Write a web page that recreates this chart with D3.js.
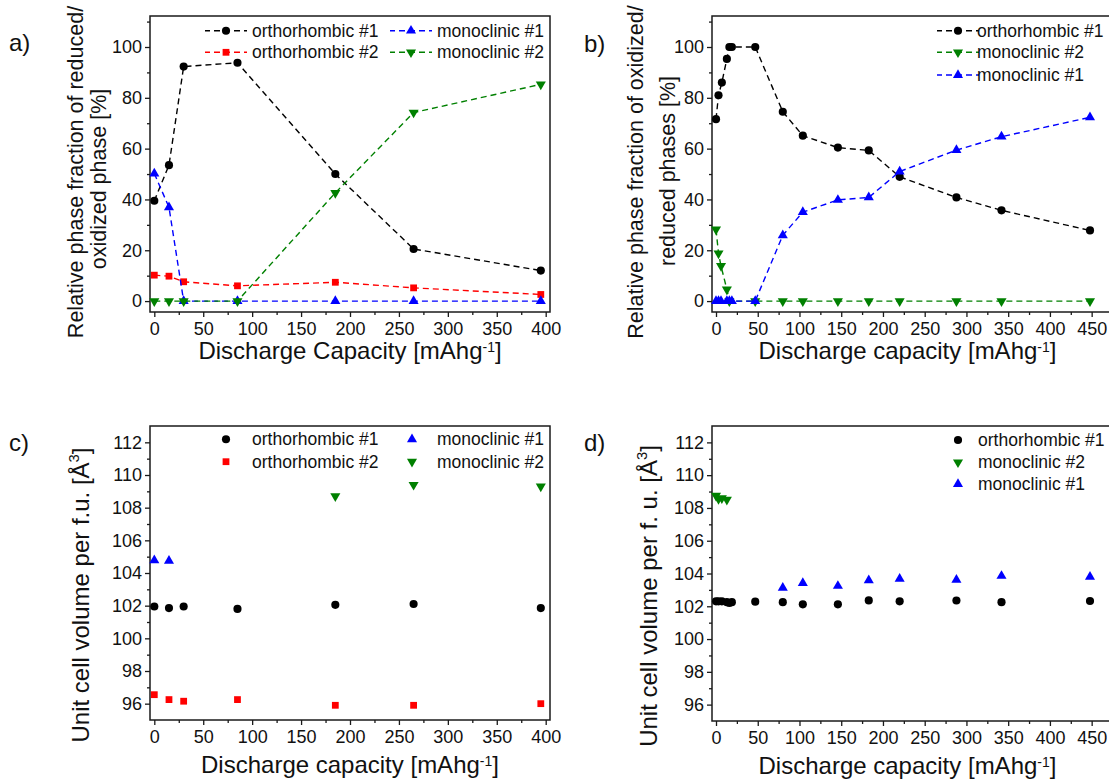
<!DOCTYPE html>
<html>
<head>
<meta charset="utf-8">
<script src="https://cdn.jsdelivr.net/npm/d3@7"></script>
<style>
  body { margin: 0; background: #fff; }
  svg { font-family: "Liberation Sans", Arial, sans-serif; }
</style>
</head>
<body>
<svg width="1109" height="781"></svg>
<script>

// ---- data, panels a) and c) (same capacities) ----
const capAC = [0, 15, 30, 85, 185, 265, 395];

const fracA_ortho1 = [39.5, 53.5, 92.3, 93.8, 50, 20.5, 12];
const fracA_ortho2 = [10.2, 9.8, 7.6, 6.0, 7.4, 5.2, 2.6];
const fracA_mono1  = [50.2, 36.9, 0, 0, 0, 0, 0];
const fracA_mono2  = [0, 0, 0, 0, 42.6, 74.2, 85.3];

const volC_ortho1 = [101.95, 101.85, 101.95, 101.8, 102.05, 102.1, 101.85];
const volC_ortho2 = [96.55, 96.25, 96.15, 96.25, 95.9, 95.9, 96.0];
const capC_mono1  = [0, 15];
const volC_mono1  = [104.78, 104.74];
const capC_mono2  = [185, 265, 395];
const volC_mono2  = [108.7, 109.4, 109.3];

// ---- data, panel b) ----
const capB_ortho1  = [0, 3, 7, 13, 16, 19, 47, 80, 104, 146, 183, 220, 288, 342, 448];
const fracB_ortho1 = [71.6, 81, 86, 95.3, 100, 100, 100, 74.5, 65.1, 60.4, 59.3, 48.9, 40.8, 35.7, 27.8];
const capB_mono2   = [0, 3, 6, 13, 16, 47, 80, 104, 146, 183, 220, 288, 342, 448];
const fracB_mono2  = [28.2, 18.8, 13.8, 4.6, 0, 0, 0, 0, 0, 0, 0, 0, 0, 0];
const capB_mono1   = [0, 3, 6, 13, 16, 19, 47, 80, 104, 146, 183, 220, 288, 342, 448];
const fracB_mono1  = [0, 0, 0, 0, 0, 0, 0, 25.9, 35, 39.8, 40.8, 51, 59.4, 64.7, 72.3];

// ---- data, panel d) ----
const capD_ortho1 = [0, 3, 7, 13, 16, 19, 47, 80, 104, 146, 183, 220, 288, 342, 448];
const volD_ortho1 = [102.3, 102.3, 102.3, 102.25, 102.2, 102.25, 102.28, 102.25, 102.12, 102.12, 102.36, 102.3, 102.35, 102.25, 102.32];
const capD_mono2  = [0, 3, 7, 13];
const volD_mono2  = [108.75, 108.55, 108.6, 108.5];
const capD_mono1  = [80, 104, 146, 183, 220, 288, 342, 448];
const volD_mono1  = [103.13, 103.42, 103.24, 103.58, 103.68, 103.62, 103.85, 103.8];

// ---- ticks ----
const fracTicks  = [0, 20, 40, 60, 80, 100];
const fracMinor  = [10, 30, 50, 70, 90, 110];
const volTicks   = [96, 98, 100, 102, 104, 106, 108, 110, 112];
const volMinor   = [97, 99, 101, 103, 105, 107, 109, 111];
const capTicks400 = [0, 50, 100, 150, 200, 250, 300, 350, 400];
const capMinor400 = [25, 75, 125, 175, 225, 275, 325, 375];
const capTicks450 = [0, 50, 100, 150, 200, 250, 300, 350, 400, 450];
const capMinor450 = [25, 75, 125, 175, 225, 275, 325, 375, 425];

const names = ['orthorhombic #1', 'orthorhombic #2', 'monoclinic #1', 'monoclinic #2'];

const col = { black: '#000000', red: '#ff0000', blue: '#0000ff', green: '#008000' };

const zip = (xs, ys) => xs.map((x, i) => ({ x: x, y: ys[i] }));

const svg = d3.select('svg');

function marker(g, type, color) {
    const sym = {
        circle: d3.symbol().type(d3.symbolCircle).size(52),
        square: d3.symbol().type(d3.symbolSquare).size(46),
        up: d3.symbol().type(d3.symbolTriangle).size(44),
        down: d3.symbol().type(d3.symbolTriangle).size(44)
    };
    const p = g.append('path').attr('d', sym[type]()).attr('fill', color);
    if (type == 'down') p.attr('transform', 'rotate(180)');
    return p;
}

function drawPanel(cfg) {

    const x = d3.scaleLinear().domain(cfg.xDomain).range([cfg.left, cfg.right]);
    const y = d3.scaleLinear().domain(cfg.yDomain).range([cfg.bottom, cfg.top]);

    const g = svg.append('g');

    // frame
    g.append('rect')
        .attr('x', cfg.left).attr('y', cfg.top)
        .attr('width', cfg.right - cfg.left).attr('height', cfg.bottom - cfg.top)
        .attr('fill', 'none').attr('stroke', '#1a1a1a').attr('stroke-width', 1.5);

    // axes
    const ax = (sel) => {
        sel.attr('font-family', null).attr('font-size', null);
        sel.select('.domain').remove();
        sel.selectAll('line').attr('stroke', '#1a1a1a').attr('stroke-width', 1.3);
        sel.selectAll('text').attr('font-size', 18).attr('fill', '#111');
    };

    g.append('g').attr('transform', `translate(0,${cfg.bottom})`)
        .call(d3.axisBottom(x).tickValues(cfg.xTicks).tickSize(5).tickPadding(5).tickFormat(d3.format('d')))
        .call(ax);
    g.append('g').attr('transform', `translate(0,${cfg.bottom})`)
        .call(d3.axisBottom(x).tickValues(cfg.xMinor).tickSize(3).tickFormat(''))
        .call(ax);

    g.append('g').attr('transform', `translate(${cfg.left},0)`)
        .call(d3.axisLeft(y).tickValues(cfg.yTicks).tickSize(5).tickPadding(3).tickFormat(d3.format('d')))
        .call(ax);
    g.append('g').attr('transform', `translate(${cfg.left},0)`)
        .call(d3.axisLeft(y).tickValues(cfg.yMinor).tickSize(3).tickFormat(''))
        .call(ax);

    // series
    const line = d3.line().x(d => x(d.x)).y(d => y(d.y));
    cfg.series.forEach(s => {
        const pts = zip(s.xs, s.ys);
        if (cfg.lines) {
            g.append('path').datum(pts)
                .attr('d', line).attr('fill', 'none')
                .attr('stroke', s.color).attr('stroke-width', 1.4)
                .attr('stroke-dasharray', '6,4');
        }
        pts.forEach(p => {
            const m = g.append('g').attr('transform', `translate(${x(p.x)},${y(p.y)})`);
            marker(m, s.sym, s.color);
        });
    });

    // legend
    cfg.legend.forEach(it => {
        const s = cfg.series[it.series];
        if (cfg.lines) {
            g.append('line')
                .attr('x1', it.mx - 21).attr('x2', it.mx + 21)
                .attr('y1', it.y).attr('y2', it.y)
                .attr('stroke', s.color).attr('stroke-width', 1.4)
                .attr('stroke-dasharray', '6,4').attr('stroke-dashoffset', 1);
        }
        const m = g.append('g').attr('transform', `translate(${it.mx},${it.y})`);
        marker(m, s.sym, s.color);
        g.append('text')
            .attr('x', it.tx).attr('y', it.y + 6)
            .attr('font-size', 17.5).attr('fill', '#111')
            .text(names[s.name]);
    });

    // x title
    const xt = g.append('text')
        .attr('x', (cfg.left + Math.min(cfg.right, 1109)) / 2 + cfg.xTitleShift)
        .attr('y', cfg.bottom + cfg.xTitleDy)
        .attr('text-anchor', 'middle')
        .attr('font-size', 24).attr('fill', '#111');
    xt.append('tspan').text(cfg.xTitle + ' [mAhg');
    xt.append('tspan').attr('font-size', 14).attr('dy', -7).text('-1');
    xt.append('tspan').attr('dy', 7).text(']');

    // y title
    cfg.yTitle.forEach(t => {
        const yt = g.append('text')
            .attr('transform', `translate(${t.cx},${t.cy}) rotate(-90)`)
            .attr('text-anchor', 'middle')
            .attr('dy', '0.36em')
            .attr('font-size', t.size).attr('fill', '#111');
        yt.append('tspan').text(t.text);
        if (t.sup) {
            yt.append('tspan').attr('font-size', t.size * 0.62).attr('dy', -t.size * 0.4).text(t.sup);
            yt.append('tspan').attr('dy', t.size * 0.4).text(']');
        }
    });

    // panel label
    svg.append('text')
        .attr('x', cfg.label.x).attr('y', cfg.label.y)
        .attr('font-size', 24).attr('fill', '#111')
        .text(cfg.label.text);
}

// a)
drawPanel({
    left: 150, right: 550, top: 16, bottom: 312,
    xDomain: [-4.4, 404.4], yDomain: [-4.3, 112.2],
    xTicks: capTicks400, xMinor: capMinor400, yTicks: fracTicks, yMinor: fracMinor,
    lines: true,
    series: [
        { xs: capAC, ys: fracA_ortho1, color: col.black, sym: 'circle', name: 0 },
        { xs: capAC, ys: fracA_ortho2, color: col.red, sym: 'square', name: 1 },
        { xs: capAC, ys: fracA_mono1, color: col.blue, sym: 'up', name: 2 },
        { xs: capAC, ys: fracA_mono2, color: col.green, sym: 'down', name: 3 }
    ],
    legend: [
        { series: 0, mx: 226, tx: 252, y: 30.7 },
        { series: 1, mx: 226, tx: 252, y: 52.3 },
        { series: 2, mx: 411, tx: 437, y: 30.7 },
        { series: 3, mx: 411, tx: 437, y: 52.3 }
    ],
    xTitle: 'Discharge Capacity', xTitleDy: 47, xTitleShift: 0,
    yTitle: [
        { text: 'Relative phase fraction of reduced/', cx: 75, cy: 172, size: 21.5 },
        { text: 'oxidized phase [%]', cx: 98, cy: 179, size: 21.5 }
    ],
    label: { text: 'a)', x: 9, y: 51 }
});

// b)
drawPanel({
    left: 712, right: 1125, top: 16, bottom: 312,
    xDomain: [-4.8, (1125 - 716) / 0.8348], yDomain: [-4.3, 112.2],
    xTicks: capTicks450, xMinor: capMinor450, yTicks: fracTicks, yMinor: fracMinor,
    lines: true,
    series: [
        { xs: capB_ortho1, ys: fracB_ortho1, color: col.black, sym: 'circle', name: 0 },
        { xs: capB_mono2, ys: fracB_mono2, color: col.green, sym: 'down', name: 3 },
        { xs: capB_mono1, ys: fracB_mono1, color: col.blue, sym: 'up', name: 2 }
    ],
    legend: [
        { series: 0, mx: 958, tx: 977, y: 30.7 },
        { series: 1, mx: 958, tx: 977, y: 52.3 },
        { series: 2, mx: 958, tx: 977, y: 75 }
    ],
    xTitle: 'Discharge capacity', xTitleDy: 47, xTitleShift: -3,
    yTitle: [
        { text: 'Relative phase fraction of oxidized/', cx: 635, cy: 172, size: 21.5 },
        { text: 'reduced phases [%]', cx: 667, cy: 171, size: 21.5 }
    ],
    label: { text: 'b)', x: 584, y: 52 }
});

// c)
drawPanel({
    left: 150, right: 550, top: 426, bottom: 720,
    xDomain: [-4.4, 404.4], yDomain: [95, 113],
    xTicks: capTicks400, xMinor: capMinor400, yTicks: volTicks, yMinor: volMinor,
    lines: false,
    series: [
        { xs: capAC, ys: volC_ortho1, color: col.black, sym: 'circle', name: 0 },
        { xs: capAC, ys: volC_ortho2, color: col.red, sym: 'square', name: 1 },
        { xs: capC_mono1, ys: volC_mono1, color: col.blue, sym: 'up', name: 2 },
        { xs: capC_mono2, ys: volC_mono2, color: col.green, sym: 'down', name: 3 }
    ],
    legend: [
        { series: 0, mx: 226, tx: 252, y: 439.3 },
        { series: 1, mx: 226, tx: 252, y: 461.7 },
        { series: 2, mx: 412, tx: 437, y: 439.3 },
        { series: 3, mx: 412, tx: 437, y: 461.7 }
    ],
    xTitle: 'Discharge capacity', xTitleDy: 53, xTitleShift: 0,
    yTitle: [
        { text: 'Unit cell volume per f.u. [Å', sup: '3', cx: 80, cy: 595, size: 24 }
    ],
    label: { text: 'c)', x: 9, y: 451 }
});

// d)
drawPanel({
    left: 712, right: 1125, top: 426, bottom: 721,
    xDomain: [-4.8, (1125 - 716) / 0.8348], yDomain: [95, 113],
    xTicks: capTicks450, xMinor: capMinor450, yTicks: volTicks, yMinor: volMinor,
    lines: false,
    series: [
        { xs: capD_ortho1, ys: volD_ortho1, color: col.black, sym: 'circle', name: 0 },
        { xs: capD_mono2, ys: volD_mono2, color: col.green, sym: 'down', name: 3 },
        { xs: capD_mono1, ys: volD_mono1, color: col.blue, sym: 'up', name: 2 }
    ],
    legend: [
        { series: 0, mx: 958, tx: 978, y: 440 },
        { series: 1, mx: 958, tx: 978, y: 462.3 },
        { series: 2, mx: 958, tx: 978, y: 484 }
    ],
    xTitle: 'Discharge capacity', xTitleDy: 53, xTitleShift: -3,
    yTitle: [
        { text: 'Unit cell volume per f. u. [Å', sup: '3', cx: 648, cy: 596, size: 24 }
    ],
    label: { text: 'd)', x: 584, y: 451 }
});

</script>
</body>
</html>
